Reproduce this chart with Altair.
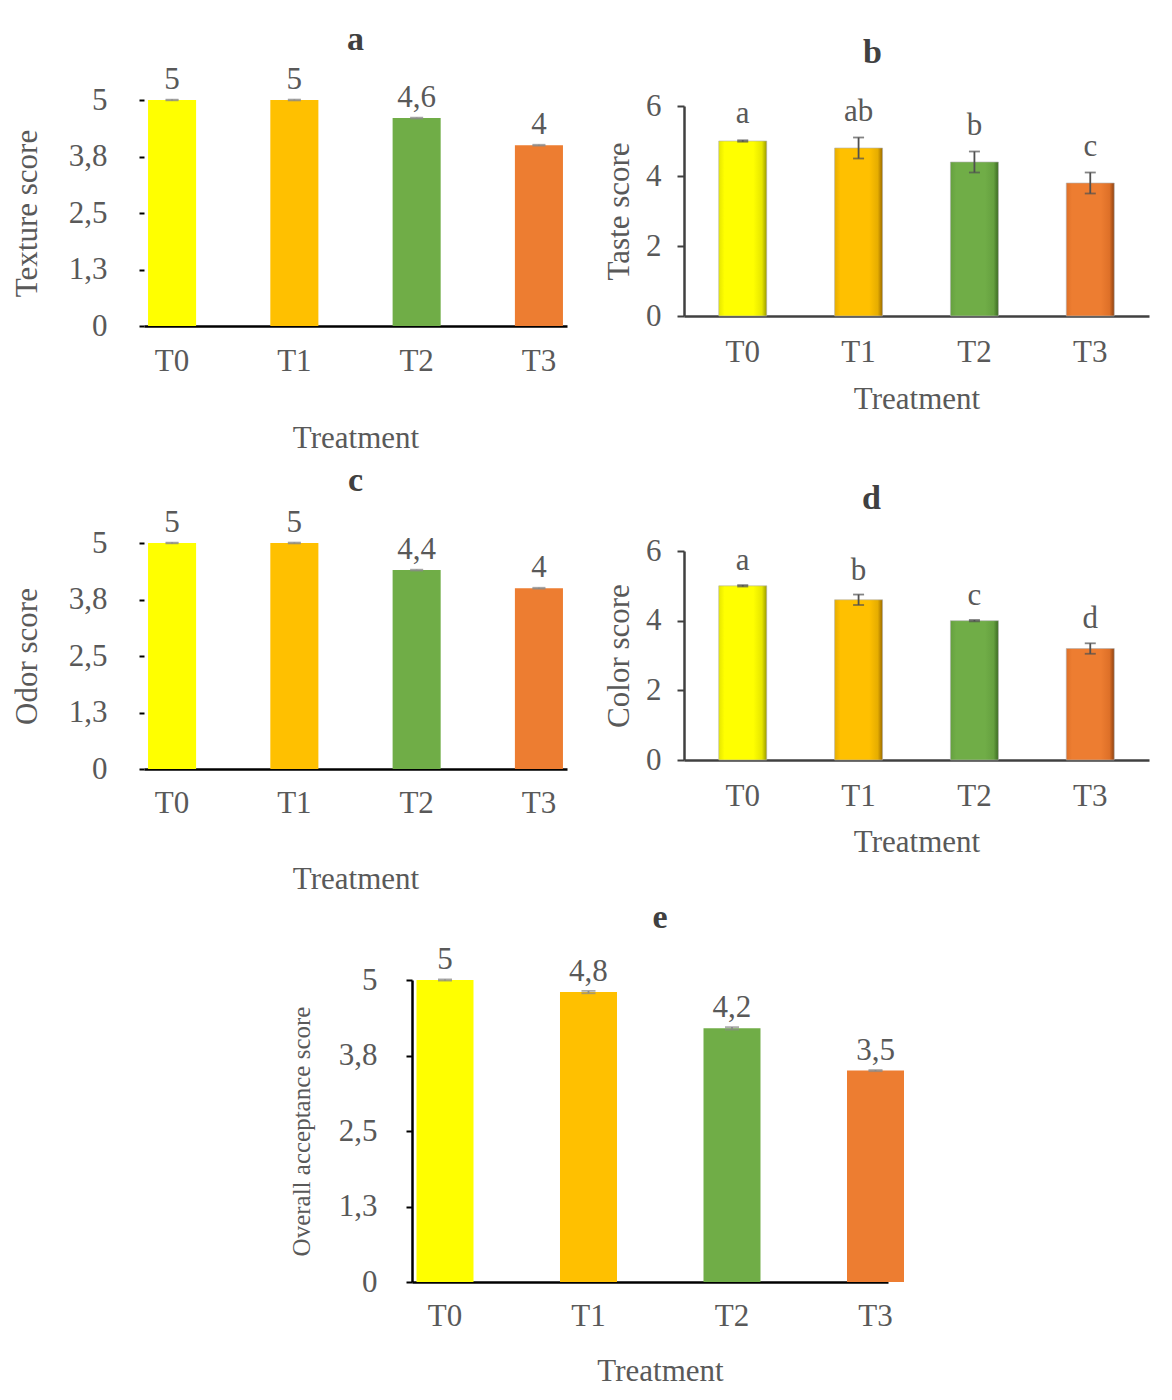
import altair as alt
import pandas as pd

# ---------------- data ----------------
treatments = ["T0", "T1", "T2", "T3"]
bar_colors = ["#FFFF00", "#FFC000", "#70AD47", "#ED7D31"]
dark_colors = ["#9a9a00", "#9a6a00", "#3b6a22", "#8f4210"]
edge_colors = ["#e6e600", "#e6ad00", "#65a03f", "#de7028"]

texture = [5.0, 5.0, 4.6, 4.0]
texture_err = [0.01, 0.01, 0.01, 0.01]

taste = [5.0, 4.8, 4.4, 3.8]
taste_err = [0.02, 0.3, 0.3, 0.3]
taste_letters = ["a", "ab", "b", "c"]

odor = [5.0, 5.0, 4.4, 4.0]
odor_err = [0.01, 0.01, 0.01, 0.01]

color_score = [5.0, 4.6, 4.0, 3.2]
color_err = [0.02, 0.15, 0.02, 0.15]
color_letters = ["a", "b", "c", "d"]

overall = [5.0, 4.8, 4.2, 3.5]
overall_err = [0.01, 0.02, 0.02, 0.01]

ticks5 = [0, 1.25, 2.5, 3.75, 5]
ticks5_labels = ["0", "1,3", "2,5", "3,8", "5"]
ticks6 = [0, 2, 4, 6]
ticks6_labels = ["0", "2", "4", "6"]

FONT = "Liberation Serif"
TXT = "#595959"


def fmt(v):
    return ("%g" % v).replace(".", ",")


def label_expr(vals, labs):
    expr = "''"
    for v, l in reversed(list(zip(vals, labs))):
        expr = f"abs(datum.value - {v}) < 0.001 ? '{l}' : ({expr})"
    return expr


def panel(values, errs, labels, ytitle, letter, width, height, ymax,
          tvals, tlabs, pin, pout, shaded, axis_color, show_ydomain,
          tick_size, lab_pad, ytitle_x, xlab_pad, xtitle_y, ytitle_size,
          title_off, title_dx, label_dy, cap, yrange=None, xrange=None,
          yoffset=0, xtitle_x=None, bar_w=None, xalign=None):
    df = pd.DataFrame({
        "t": treatments,
        "v": values,
        "lo": [v - e for v, e in zip(values, errs)],
        "hi": [v + e for v, e in zip(values, errs)],
        "lab": labels,
        "c": bar_colors,
    })
    xs = dict(domain=treatments, paddingInner=pin, paddingOuter=pout)
    if xrange is not None:
        xs["range"] = xrange
    if xalign is not None:
        xs["align"] = xalign
    xax = dict(
        labelAngle=0, ticks=False, tickSize=0, domainColor=axis_color,
        domainWidth=2.5, labelFont=FONT, labelFontSize=31, labelColor=TXT,
        labelBaseline="alphabetic", labelPadding=xlab_pad,
        titleFont=FONT, titleFontSize=31, titleColor=TXT,
        titleFontWeight="normal", titleBaseline="alphabetic",
        titleY=xtitle_y, grid=False,
    )
    if xtitle_x is not None:
        xax["titleX"] = xtitle_x
    xenc = alt.X("t:N", sort=treatments, scale=alt.Scale(**xs),
                 title="Treatment", axis=alt.Axis(**xax))
    yaxis = alt.Axis(
        values=tvals, labelExpr=label_expr(tvals, tlabs), grid=False,
        domain=show_ydomain, domainColor=axis_color, domainWidth=2.5,
        tickColor=axis_color, tickWidth=2, tickSize=tick_size,
        labelFont=FONT, labelFontSize=31, labelColor=TXT, labelPadding=lab_pad,
        titleFont=FONT, titleFontSize=ytitle_size, titleColor=TXT,
        titleFontWeight="normal", titleBaseline="middle", titleX=ytitle_x,
        offset=yoffset,
    )
    ys = dict(domain=[0, ymax], nice=False, zero=True)
    if yrange is not None:
        ys["range"] = yrange
    yscale = alt.Scale(**ys)

    def Y(field):
        return alt.Y(field, scale=yscale, axis=yaxis, title=ytitle)

    base = alt.Chart(df)
    layers = []
    if shaded:
        for t, c, d, e in zip(treatments, bar_colors, dark_colors, edge_colors):
            grad = alt.Gradient(
                gradient="linear", x1=0, x2=1, y1=0, y2=0,
                stops=[
                    alt.GradientStop(offset=0, color=e),
                    alt.GradientStop(offset=0.12, color=c),
                    alt.GradientStop(offset=0.72, color=c),
                    alt.GradientStop(offset=0.9, color=e),
                    alt.GradientStop(offset=1, color=d),
                ],
            )
            layers.append(
                base.transform_filter(alt.datum.t == t)
                .mark_bar(color=grad, stroke="#b0b0b0", strokeWidth=0.6)
                .encode(x=xenc, y=Y("v:Q"))
            )
    else:
        layers.append(
            base.mark_bar(**({"width": bar_w} if bar_w else {})).encode(
                x=xenc, y=Y("v:Q"), color=alt.Color("c:N", scale=None)
            )
        )
    ecol = "#505050" if shaded else "#8a8a8a"
    layers.append(base.mark_rule(color=ecol, strokeWidth=1.8).encode(
        x=xenc, y=Y("lo:Q"), y2="hi:Q"))
    layers.append(base.mark_tick(color=ecol, size=cap, thickness=1.8,
                                 orient="horizontal").encode(x=xenc, y=Y("lo:Q")))
    layers.append(base.mark_tick(color=ecol, size=cap, thickness=1.8,
                                 orient="horizontal").encode(x=xenc, y=Y("hi:Q")))
    layers.append(
        base.mark_text(font=FONT, fontSize=31, color=TXT, baseline="alphabetic",
                       dy=label_dy).encode(x=xenc, y=Y("hi:Q"), text="lab:N")
    )
    return alt.layer(*layers).properties(
        width=width, height=height,
        title=alt.TitleParams(
            letter, font=FONT, fontSize=34, fontWeight="bold", color="#404040",
            anchor="middle", frame="group", baseline="alphabetic",
            offset=title_off, dx=title_dx,
        ),
    )


pa = panel(texture, texture_err, [fmt(v) for v in texture], "Texture score", "a",
           423, 226, 5, ticks5, ticks5_labels, 0.607, 0.033, False, "#000000",
           False, 5, 32, -117, 44, 121, 31, -20, 0, -11, 13)
pb = panel(taste, taste_err, taste_letters, "Taste score", "b",
           465, 216, 6, ticks6, ticks6_labels, 0.586, 0.30, True, "#404040",
           True, 7, 16, -65, 45, 92, 31, -7, -44, -17, 11, yrange=[216, 6])
pc = panel(odor, odor_err, [fmt(v) for v in odor], "Odor score", "c",
           423, 232, 5, ticks5, ticks5_labels, 0.607, 0.033, False, "#000000",
           False, 5, 32, -117, 43, 119, 31, -18, 0, -11, 13, yrange=[232, 6])
pd_ = panel(color_score, color_err, color_letters, "Color score", "d",
            465, 223, 6, ticks6, ticks6_labels, 0.586, 0.30, True, "#404040",
            True, 7, 16, -65, 45, 91, 31, -8, -45, -15, 11, yrange=[223, 14])
pe = panel(overall, overall_err, [fmt(v) for v in overall],
           "Overall acceptance score", "e",
           224, 302, 5, ticks5, ticks5_labels, 0.8258, 0.0714, False, "#000000",
           True, 6, 29, -111, 43, 98, 25, -18, -136, -10, 14,
           xrange=[-272, 204], yoffset=272, xtitle_x=-24, bar_w=57, xalign=1)

spacer = alt.Chart(pd.DataFrame({"s": [0]})).mark_point(opacity=0).encode(
    x=alt.value(0), y=alt.value(0)).properties(width=1, height=1)

chart = alt.concat(
    pa, pb, pc, pd_, spacer, pe, columns=2,
    spacing={"row": 211, "column": 117}, bounds="flush", align="each",
).properties(
    padding={"left": 2, "top": 14, "right": 0, "bottom": 0},
    background="white",
).configure(
    font=FONT, view=alt.ViewConfig(stroke="transparent")
)

chart.save("out.html", embed_options={"renderer": "svg", "actions": False})
